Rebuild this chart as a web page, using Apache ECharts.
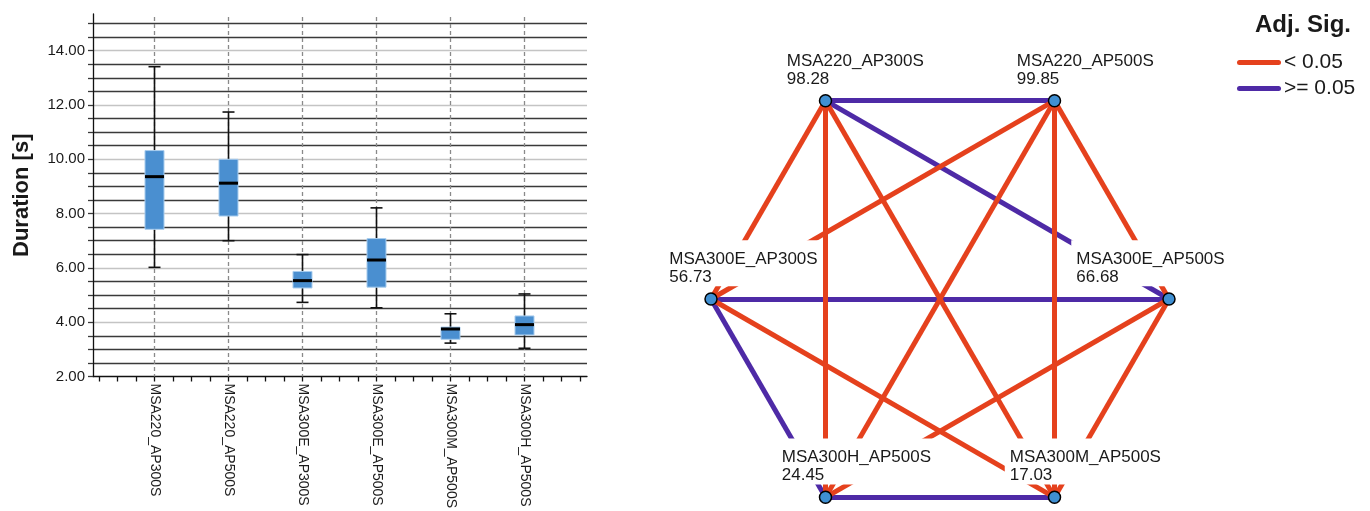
<!DOCTYPE html>
<html><head><meta charset="utf-8">
<script src="https://cdn.jsdelivr.net/npm/echarts@6/dist/echarts.min.js"></script>
<style>html,body{margin:0;padding:0;background:#fff}#c{width:1370px;height:511px}</style>
</head><body><div id="c"></div>
<script>
// ---------- data: box plot ----------
const categories = ['MSA220_AP300S','MSA220_AP500S','MSA300E_AP300S','MSA300E_AP500S','MSA300M_AP500S','MSA300H_AP500S'];
const whiskerLow  = [6.02, 7.00, 4.73, 4.53, 3.23, 3.04];
const q1          = [7.42, 7.91, 5.26, 5.29, 3.37, 3.53];
const median      = [9.36, 9.12, 5.53, 6.29, 3.75, 3.91];
const q3          = [10.32, 10.00, 5.87, 7.08, 3.82, 4.23];
const whiskerHigh = [13.41, 11.74, 6.49, 8.21, 4.31, 5.04];
const yTickLabels = ['2.00','4.00','6.00','8.00','10.00','12.00','14.00'];

// ---------- data: pairwise comparison network ----------
const nodeNames = ['MSA220_AP300S','MSA220_AP500S','MSA300E_AP300S','MSA300E_AP500S','MSA300H_AP500S','MSA300M_AP500S'];
const meanRanks = [98.28, 99.85, 56.73, 66.68, 24.45, 17.03];
const edgeFrom = ['MSA220_AP300S','MSA220_AP300S','MSA220_AP300S','MSA220_AP300S','MSA220_AP300S',
                  'MSA220_AP500S','MSA220_AP500S','MSA220_AP500S','MSA220_AP500S',
                  'MSA300E_AP300S','MSA300E_AP300S','MSA300E_AP300S',
                  'MSA300E_AP500S','MSA300E_AP500S','MSA300H_AP500S'];
const edgeTo   = ['MSA220_AP500S','MSA300E_AP300S','MSA300E_AP500S','MSA300H_AP500S','MSA300M_AP500S',
                  'MSA300E_AP300S','MSA300E_AP500S','MSA300H_AP500S','MSA300M_AP500S',
                  'MSA300E_AP500S','MSA300H_AP500S','MSA300M_AP500S',
                  'MSA300H_AP500S','MSA300M_AP500S','MSA300M_AP500S'];
const edgeSignificant = [false,true,false,true,true, true,true,true,true, false,false,true, true,true,false];
const legendLabels = ['< 0.05', '>= 0.05'];
const legendTitle = 'Adj. Sig.';

// ---------- layout & style ----------
const FONT = "'Liberation Sans', Arial, Helvetica, sans-serif";
const TXT = '#1a1a1a';
const RED = '#e5411d', PURPLE = '#4e2aa6', BLUE = '#4a8fd0', NODE_BLUE = '#3f8fd2';
const DARK = '#3a3a3a', LIGHT = '#c4c4c4';
const Y_MIN = 2, Y_MAX = 15.35;
const GRID_TOP = 14, GRID_H = 362.5;

const HEX_CX = 940, HEX_CY = 299, HEX_R = 229;
const hexAngle = [240, 300, 180, 0, 120, 60];
const labelDx  = [-38, -37, -41, -92, -43, -44];
const NODE_SIZE = 12;
const pos = hexAngle.map(a => [HEX_CX + HEX_R * Math.cos(a * Math.PI / 180), HEX_CY + HEX_R * Math.sin(a * Math.PI / 180)]);
const xs = pos.map(p => p[0]), ys = pos.map(p => p[1]);
const box = { left: Math.min(...xs), top: Math.min(...ys), width: Math.max(...xs) - Math.min(...xs), height: Math.max(...ys) - Math.min(...ys) };

function links(sig) {
  const out = [];
  edgeFrom.forEach((f, i) => { if (edgeSignificant[i] === sig) out.push({ source: f, target: edgeTo[i] }); });
  return out;
}

const chart = echarts.init(document.getElementById('c'), null, { renderer: 'canvas' });
chart.setOption({
  animation: false,
  backgroundColor: '#fff',
  title: { text: legendTitle, right: 14, top: 8, textStyle: { fontSize: 24, fontWeight: 'bold', color: TXT, fontFamily: FONT } },
  legend: {
    orient: 'vertical', left: 1232, top: 47, itemWidth: 44, itemHeight: 5, itemGap: 5, icon: 'path://M2.5,0 L41.5,0 A2.5,2.5 0 0 1 41.5,5 L2.5,5 A2.5,2.5 0 0 1 2.5,0 Z', selectedMode: false,
    data: [
      { name: legendLabels[0], itemStyle: { color: RED, borderWidth: 0, borderColor: RED } },
      { name: legendLabels[1], itemStyle: { color: PURPLE, borderWidth: 0, borderColor: PURPLE } }
    ],
    textStyle: { fontSize: 21, color: TXT, fontFamily: FONT, padding: [0, 0, 0, -2] }
  },
  grid: [
    { left: 93, top: GRID_TOP, width: 494, height: GRID_H, outerBoundsMode: 'none' },
    { left: 117.5, top: GRID_TOP, width: 444, height: GRID_H, outerBoundsMode: 'none' },
    { left: 99, top: GRID_TOP, width: 481, height: GRID_H, outerBoundsMode: 'none' }
  ],
  xAxis: [
    { gridIndex: 0, type: 'value', min: 0, max: 1, axisLine: { show: true, lineStyle: { color: '#111', width: 1.3 } },
      axisTick: { show: false }, axisLabel: { show: false }, splitLine: { show: false } },
    { gridIndex: 1, type: 'category', data: categories, axisLine: { show: false }, axisTick: { show: false },
      axisLabel: { rotate: -90, margin: 7, interval: 0, fontSize: 14, color: TXT, fontFamily: FONT }, splitLine: { show: false } },
    { gridIndex: 2, type: 'value', min: 0, max: 26, interval: 1, axisLine: { show: false },
      axisTick: { show: true, length: 5, lineStyle: { color: '#111', width: 1.3 } }, axisLabel: { show: false }, splitLine: { show: false } }
  ],
  yAxis: [
    { gridIndex: 0, type: 'value', min: Y_MIN, max: Y_MAX, interval: 0.5,
      name: 'Duration [s]', nameLocation: 'middle', nameGap: 60,
      nameTextStyle: { fontSize: 22, fontWeight: 'bold', color: TXT, fontFamily: FONT },
      axisLine: { show: true, lineStyle: { color: '#111', width: 1.3 } },
      axisTick: { show: true, length: 5, lineStyle: { color: DARK, width: 1.3 } },
      axisLabel: { margin: 8, fontSize: 15, color: TXT, fontFamily: FONT, showMaxLabel: false,
        formatter: v => { const s = v.toFixed(2); return yTickLabels.indexOf(s) >= 0 ? s : ''; } },
      splitLine: { show: true, showMinLine: false, showMaxLine: false, lineStyle: { color: [DARK, DARK, DARK, LIGHT], width: 1.4 } } },
    { gridIndex: 1, type: 'value', min: Y_MIN, max: Y_MAX, show: false, splitLine: { show: false } },
    { gridIndex: 2, type: 'value', min: Y_MIN, max: Y_MAX, show: false, splitLine: { show: false } }
  ],
  series: [
    {
      type: 'custom', xAxisIndex: 1, yAxisIndex: 1, z: 5, silent: true,
      data: categories.map((c, i) => [i, whiskerLow[i], q1[i], median[i], q3[i], whiskerHigh[i]]),
      encode: { x: 0, y: [1, 2, 3, 4, 5] },
      renderItem: (params, api) => {
        const i = api.value(0);
        const band = api.size([1, 0])[0];
        const bw = band * 0.257, cw = band * 0.162;
        const top = api.coord([i, Y_MAX]), bot = api.coord([i, Y_MIN]);
        const lo = api.coord([i, api.value(1)]), a = api.coord([i, api.value(2)]);
        const m = api.coord([i, api.value(3)]), b = api.coord([i, api.value(4)]);
        const hi = api.coord([i, api.value(5)]);
        const x = lo[0];
        const blk = { stroke: '#111', lineWidth: 1.6 };
        return { type: 'group', children: [
          { type: 'line', shape: { x1: x, y1: top[1] + 3, x2: x, y2: bot[1] }, style: { stroke: '#8a8a8a', lineWidth: 1.3, lineDash: [4, 3] } },
          { type: 'line', shape: { x1: x, y1: lo[1], x2: x, y2: a[1] }, style: blk },
          { type: 'line', shape: { x1: x, y1: hi[1], x2: x, y2: b[1] }, style: blk },
          { type: 'line', shape: { x1: x - cw / 2, y1: lo[1], x2: x + cw / 2, y2: lo[1] }, style: blk },
          { type: 'line', shape: { x1: x - cw / 2, y1: hi[1], x2: x + cw / 2, y2: hi[1] }, style: blk },
          { type: 'rect', shape: { x: x - bw / 2, y: b[1], width: bw, height: a[1] - b[1] }, style: { fill: BLUE, stroke: '#a9cdee', lineWidth: 1 } },
          { type: 'line', shape: { x1: x - bw / 2, y1: m[1], x2: x + bw / 2, y2: m[1] }, style: { stroke: '#000', lineWidth: 3 } }
        ] };
      }
    },
    {
      type: 'graph', name: legendLabels[1], layout: 'none', roam: false, silent: true, z: 2,
      left: box.left, top: box.top, width: box.width, height: box.height,
      symbol: 'none', symbolSize: 0,
      data: nodeNames.map((n, i) => ({ name: n, x: pos[i][0], y: pos[i][1] })),
      label: { show: false },
      itemStyle: { color: PURPLE },
      links: links(false),
      lineStyle: { color: PURPLE, width: 5, opacity: 1, curveness: 0 }
    },
    {
      type: 'graph', name: legendLabels[0], layout: 'none', roam: false, silent: true, z: 3,
      left: box.left, top: box.top, width: box.width, height: box.height,
      symbol: 'circle', symbolSize: NODE_SIZE,
      itemStyle: { color: NODE_BLUE, borderColor: '#000', borderWidth: 1.5 },
      data: nodeNames.map((n, i) => ({ name: n, x: pos[i][0], y: pos[i][1], value: meanRanks[i],
        label: { position: [labelDx[i] - 5 + NODE_SIZE / 2, -12 + NODE_SIZE / 2] } })),
      label: { show: true, align: 'left', verticalAlign: 'bottom',
        formatter: p => p.name + '\n' + meanRanks[p.dataIndex].toFixed(2),
        fontSize: 17, lineHeight: 18, color: TXT, fontFamily: FONT,
        backgroundColor: '#fff', padding: [10, 5, 0, 5] },
      links: links(true),
      lineStyle: { color: RED, width: 5, opacity: 1, curveness: 0 }
    }
  ]
});
</script></body></html>
